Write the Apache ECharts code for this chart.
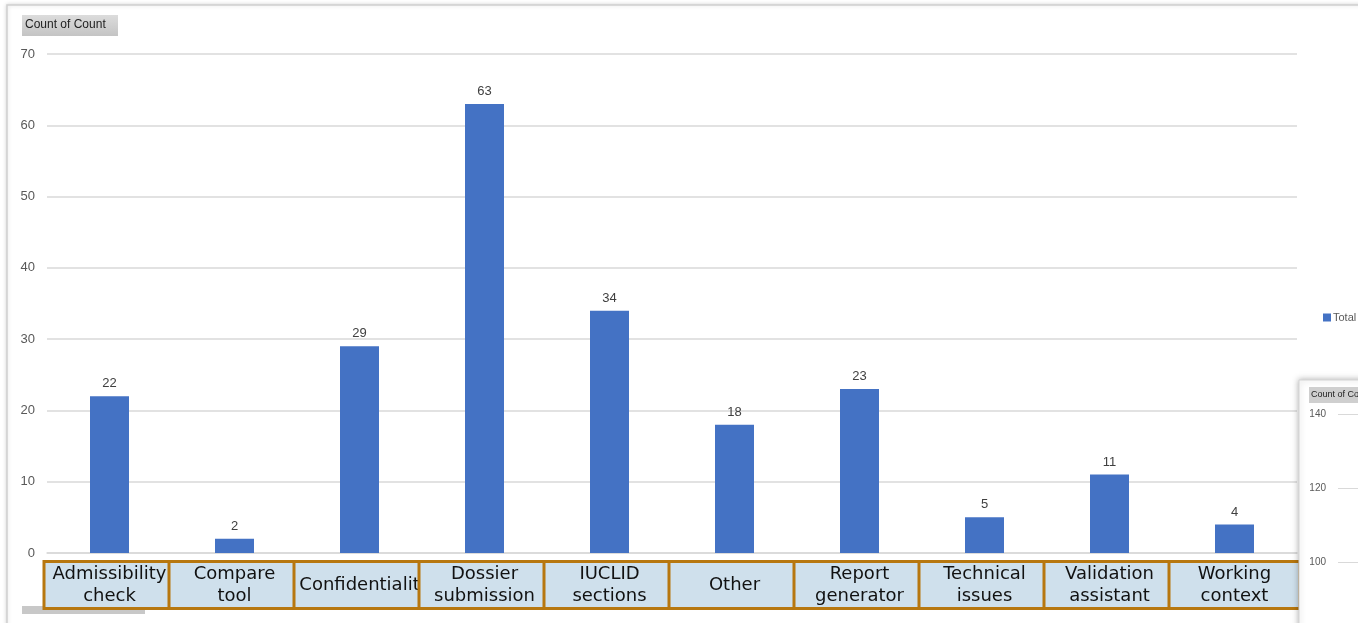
<!DOCTYPE html>
<html>
<head>
    <meta charset="UTF-8">
    <title>Count of Count</title>
    <script src="https://cdn.jsdelivr.net/npm/echarts@6/dist/echarts.min.js"></script>
    <style>
        *{margin:0;padding:0}
        html,body{width:100%;height:100%;background:#fff}
        #main{width:1358px;height:623px}
    </style>
</head>
<body>
    <div id="main"></div>
    <script type="text/javascript">
        var categories = ['Admissibility check', 'Compare tool', 'Confidentiality', 'Dossier submission',
            'IUCLID sections', 'Other', 'Report generator', 'Technical issues', 'Validation assistant', 'Working context'];
        var totals = [22, 2, 29, 63, 34, 18, 23, 5, 11, 4];
        var yTicks = [0, 70, 10];        // min, max, interval
        var sideTicks = [100, 140, 20];  // the chart peeking in at the right

        var myChart = echarts.init(document.getElementById('main'));
        var numFont = '"Liberation Sans", Arial, sans-serif';
        var boxFont = '"DejaVu Sans", Verdana, sans-serif';

        option = {
            animation: false,
            backgroundColor: '#fff',
            graphic: [
                // outer chart frame
                {type: 'rect', shape: {x: 7, y: 5, width: 1360, height: 630},
                    style: {fill: '#fff', stroke: '#d0d0d0', lineWidth: 1.5, shadowBlur: 4, shadowColor: 'rgba(0,0,0,0.15)'}, z: -10},
                // "Count of Count" field button
                {type: 'rect', shape: {x: 22, y: 15, width: 96, height: 21},
                    style: {fill: new echarts.graphic.LinearGradient(0, 0, 0, 1, [{offset: 0, color: '#dcdcdc'}, {offset: 1, color: '#c4c4c4'}])}},
                {type: 'text', x: 25, y: 19, style: {text: 'Count of Count', fontSize: 12, fontFamily: numFont, fill: '#222'}},
                // row field button below axis
                {type: 'rect', shape: {x: 22, y: 606, width: 123, height: 8}, style: {fill: '#c8c8c8'}, z: -1},
                // second chart panel at right
                {type: 'rect', shape: {x: 1299, y: 380, width: 70, height: 260},
                    style: {fill: '#fff', stroke: '#d4d4d4', lineWidth: 1, shadowBlur: 6, shadowColor: 'rgba(0,0,0,0.3)'}, z: 5},
                {type: 'rect', shape: {x: 1309, y: 387, width: 60, height: 16}, style: {fill: '#cfcfcf'}, z: 6},
                {type: 'text', x: 1311, y: 390, style: {text: 'Count of Co', fontSize: 9, fontFamily: numFont, fill: '#222'}, z: 7}
            ],
            legend: {
                data: ['Total'],
                left: 1318,
                top: 307,
                itemWidth: 8,
                itemHeight: 8,
                icon: 'rect',
                textStyle: {fontSize: 11, color: '#595959', fontFamily: numFont, padding: [0, 0, 0, -3]}
            },
            grid: [
                {left: 47, right: 61, top: 54, bottom: 70},
                {left: 1338, right: 0, top: 414, bottom: 61}
            ],
            xAxis: [
                {
                    type: 'category',
                    data: categories,
                    gridIndex: 0,
                    axisLine: {lineStyle: {color: '#d9d9d9', width: 1.5}},
                    axisTick: {show: false},
                    axisLabel: {
                        interval: 0,
                        margin: 10,
                        formatter: function (v) {
                            var parts = v.split(' ');
                            if (parts.length === 1) return '{s|' + v + '}';
                            return parts.join('\n');
                        },
                        rich: {s: {lineHeight: 44, fontSize: 18, fontFamily: boxFont, color: '#111'}},
                        fontFamily: boxFont,
                        fontSize: 18,
                        lineHeight: 22,
                        color: '#111',
                        width: 128,
                        height: 44,
                        overflow: 'truncate',
                        ellipsis: '',
                        align: 'center',
                        backgroundColor: '#cfe0ec',
                        borderColor: '#b7770f',
                        borderWidth: 3
                    }
                },
                {type: 'category', gridIndex: 1, show: false, data: ['']}
            ],
            yAxis: [
                {
                    type: 'value',
                    gridIndex: 0,
                    min: yTicks[0],
                    max: yTicks[1],
                    interval: yTicks[2],
                    axisLabel: {color: '#595959', fontSize: 13, fontFamily: numFont, margin: 12},
                    splitLine: {lineStyle: {color: '#d9d9d9', width: 1.5}}
                },
                {
                    type: 'value',
                    gridIndex: 1,
                    z: 10,
                    min: sideTicks[0],
                    max: sideTicks[1],
                    interval: sideTicks[2],
                    axisLabel: {color: '#595959', fontSize: 10, fontFamily: numFont, margin: 12},
                    splitLine: {lineStyle: {color: '#d9d9d9'}}
                }
            ],
            series: [
                {
                    name: 'Total',
                    type: 'bar',
                    xAxisIndex: 0,
                    yAxisIndex: 0,
                    data: totals,
                    barWidth: 39,
                    itemStyle: {color: '#4472c4'},
                    label: {show: true, position: 'top', distance: 6, color: '#404040', fontSize: 13, fontFamily: numFont}
                }
            ]
        };
        myChart.setOption(option);
    </script>
</body>
</html>
